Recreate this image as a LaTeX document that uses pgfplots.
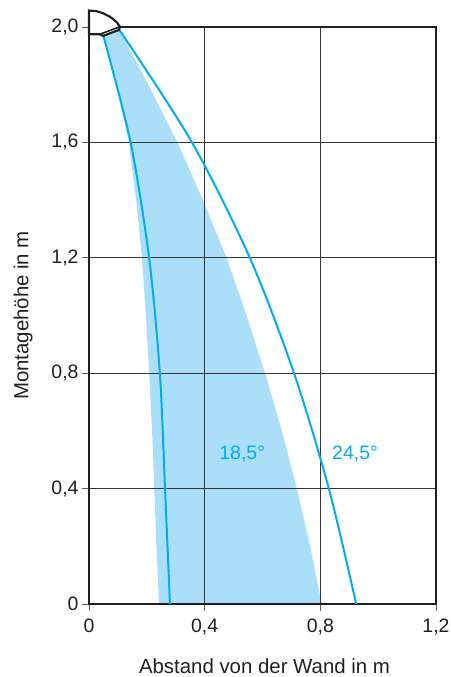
\documentclass[border=0pt]{standalone}
\usepackage{fontspec}
\setmainfont{Liberation Sans}
\usepackage{pgfplots}
\pgfplotsset{compat=1.18}
\definecolor{lichtblau}{HTML}{00AEEF}
\definecolor{flaeche}{HTML}{ABDFF9}
\definecolor{dunkel}{HTML}{231F20}
\begin{document}
\begin{tikzpicture}[x=0.75pt,y=0.75pt]
\path[use as bounding box] (-89,-73) rectangle (361,604);
% Flaeche unter dem Gitter
\begin{axis}[
    at={(0,0)},anchor=south west,
    width=260.25pt,height=432.75pt,
    scale only axis,
    axis on top,
    xmin=0,xmax=1.2,ymin=0,ymax=2,
    xtick={0,0.4,0.8,1.2},
    ytick={0,0.4,0.8,1.2,1.6,2},
    xticklabels={0,{0,4},{0,8},{1,2}},
    yticklabels={0,{0,4},{0,8},{1,2},{1,6},{2,0}},
    tick pos=left,
    grid=major,
    major grid style={dunkel!90,line width=0.7pt},
    tick style={dunkel!70,line width=0.7pt},
    major tick length=5.3pt,
    tick align=outside,
    axis line style={dunkel,line width=1.3pt},
    tick label style={font=\fontsize{14.6}{16}\selectfont,text=dunkel},
    xticklabel style={yshift=-2pt},
    yticklabel style={xshift=1pt},
    xlabel={Abstand von der Wand in m},
    ylabel={Montagehöhe in m},
    label style={font=\fontsize{15.3}{17}\selectfont,text=dunkel,inner sep=0pt},
    xlabel style={at={(axis description cs:0.5,0)},anchor=center,yshift=-47pt,xshift=1.5pt},
    ylabel style={at={(axis description cs:0,0.5)},anchor=center,yshift=49.5pt},
    /pgf/number format/assume math mode=true,
]
\addplot[fill=flaeche,draw=none,forget plot] coordinates {
    (0.049,1.972) (0.095,1.8) (0.138,1.6) (0.163,1.4) (0.183,1.2)
    (0.197,1.0) (0.208,0.8) (0.218,0.6) (0.226,0.4) (0.233,0.2) (0.242,0)
    (0.805,0) (0.765,0.2) (0.719,0.4) (0.667,0.6) (0.609,0.8)
    (0.545,1.0) (0.476,1.2) (0.394,1.4) (0.306,1.6) (0.205,1.8) (0.105,1.99)
} --cycle;
\end{axis}
% Kurven und Leuchte darueber
\begin{axis}[
    at={(0,0)},anchor=south west,
    width=260.25pt,height=432.75pt,
    scale only axis,
    hide axis,
    clip=false,
    xmin=0,xmax=1.2,ymin=0,ymax=2,
]
\addplot[lichtblau,line width=1.5pt,smooth] coordinates {
    (0.049,1.972) (0.144,1.599) (0.208,1.198) (0.245,0.80) (0.263,0.398) (0.28,0)
};
\addplot[lichtblau,line width=1.5pt,smooth] coordinates {
    (0.105,1.99) (0.355,1.602) (0.557,1.198) (0.709,0.80) (0.830,0.398) (0.924,0)
};
\addplot[fill=white,draw=dunkel,line width=1.6pt] coordinates {
    (0,1.975) (0,2.057) (0.025,2.055) (0.048,2.048) (0.068,2.038) (0.083,2.028)
    (0.097,2.015) (0.107,2.001) (0.104,1.99) (0.048,1.969) (0.038,1.975)
} --cycle;
\addplot[draw=dunkel,line width=1.2pt] coordinates {
    (0.038,1.975) (0.107,2.001)
};
\node[text=lichtblau,font=\fontsize{14.6}{16}\selectfont] at (axis cs:0.53,0.52) {18,5°};
\node[text=lichtblau,font=\fontsize{14.6}{16}\selectfont] at (axis cs:0.92,0.52) {24,5°};
\end{axis}
\end{tikzpicture}
\end{document}
